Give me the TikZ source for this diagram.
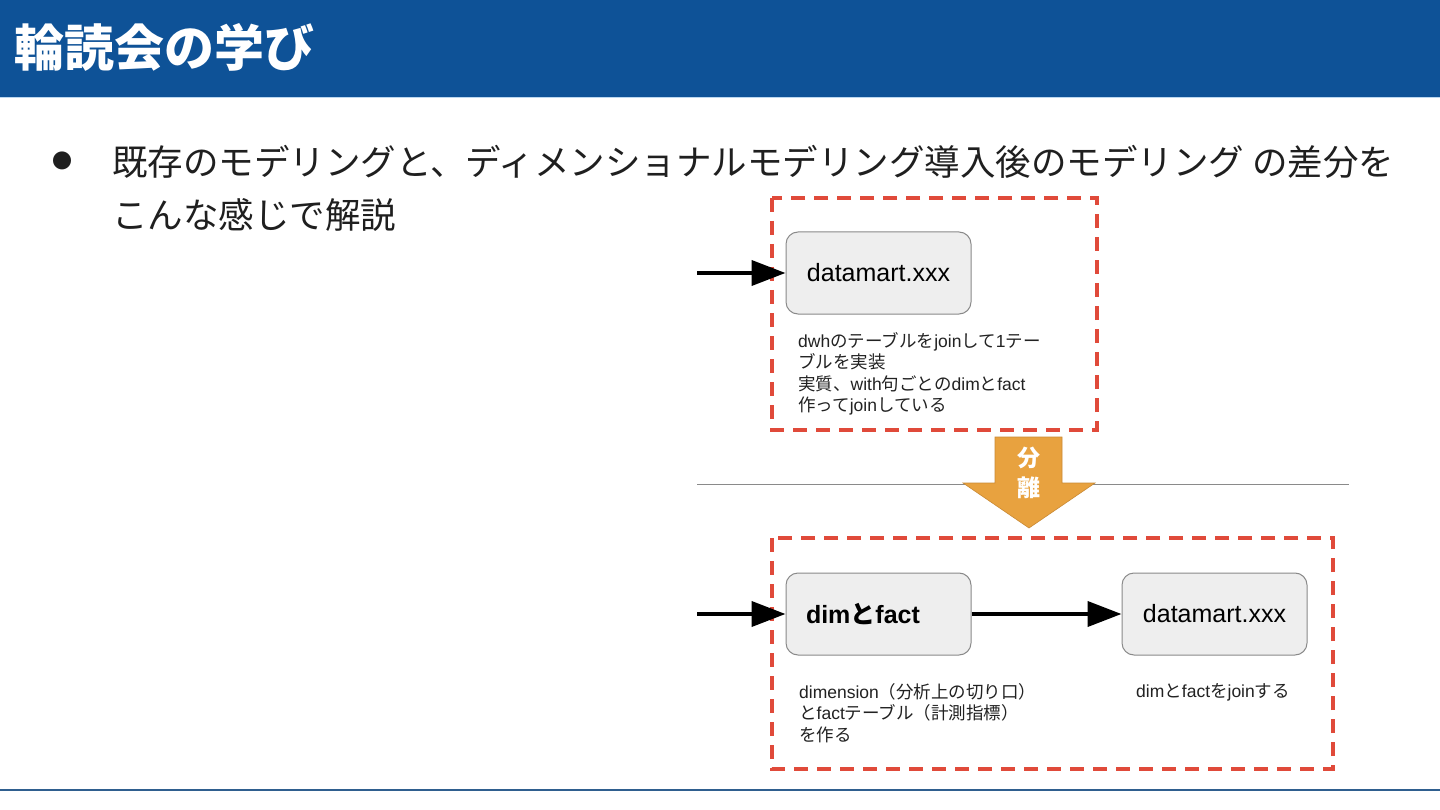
\documentclass[tikz,border=0pt]{standalone}
\usepackage{fontspec}
\setmainfont{Noto Sans CJK JP}
\newfontfamily\la{Liberation Sans}
\usetikzlibrary{arrows.meta}
\definecolor{titlebg}{HTML}{0E5297}
\definecolor{titleline}{HTML}{BBD7F0}
\definecolor{footline}{HTML}{2F5F8F}
\definecolor{reddash}{HTML}{E04A3A}
\definecolor{boxgray}{HTML}{EEEEEE}
\definecolor{boxedge}{HTML}{8A8A8A}
\definecolor{orangearrow}{HTML}{E8A23F}
\definecolor{orangeedge}{HTML}{C98A35}
\definecolor{bodytext}{HTML}{222222}
\begin{document}
\begin{tikzpicture}[x=1pt,y=-1pt,
  dashbox/.style={draw=reddash, line width=3.5pt, dash pattern=on 14pt off 9pt},
  procbox/.style={draw=boxedge, fill=boxgray, line width=1pt, rounded corners=12pt,
    minimum width=185pt, minimum height=82pt, inner sep=0pt, text=black,
    font=\la\fontsize{25}{28}\selectfont},
  bigarrow/.style={line width=4pt, -{Triangle[length=34pt,width=25pt]}},
  note/.style={anchor=north west, align=left, inner sep=0pt, text=bodytext,
    font=\fontsize{17.5}{21.5}\selectfont},
  bodyline/.style={anchor=base west, inner sep=0pt, text=black!88,
    font=\fontsize{35.5}{40}\selectfont}
]
\useasboundingbox (0,0) rectangle (1440,810);
\fill[white] (0,0) rectangle (1440,810);
% title bar
\fill[titlebg] (0,0) rectangle (1440,97);
\draw[titleline, line width=1.5pt] (0,97.5) -- (1440,97.5);
\node[anchor=base west, inner sep=0pt, text=white, font=\fontsize{50}{52}\selectfont\bfseries] (title) at (14,67) {輪読会の学び};
% bullet text
\node[inner sep=0pt, text=black!88, font=\fontsize{20}{22}\selectfont] (bullet) at (62,161) {●};
\node[bodyline] (line1) at (112,176) {既存のモデリングと、ディメンショナルモデリング導入後のモデリング の差分を};
\node[bodyline] (line2) at (112,229) {こんな感じで解説};
% footer line
\draw[footline, line width=2pt] (0,790) -- (1440,790);

% top dashed box
\draw[dashbox] (772,198) rectangle (1097,430);
\node[procbox] (dm1) at (878.5,273) {datamart.xxx};
\coordinate (in1) at (697,273);
\draw[bigarrow] (in1) -- (dm1.west);
\node[note] (note1) at (798,332) {{\la dwh}のテーブルを{\la join}して{\la 1}テー\\ブルを実装\\実質、{\la with}句ごとの{\la dim}と{\la fact}\\作って{\la join}している};

% separator and orange arrow
\coordinate (sepL) at (697,484);
\coordinate (sepR) at (1349,484);
\draw[boxedge, line width=1pt] (sepL) -- (sepR);
\fill[orangearrow, draw=orangeedge, line width=0.6pt] (995,437) -- (1062,437) -- (1062,483) -- (1095,483) -- (1029,528) -- (963,483) -- (995,483) -- cycle;
\node[text=white, inner sep=0pt, font=\fontsize{23}{24}\selectfont\bfseries] (bun) at (1029,458) {分};
\node[text=white, inner sep=0pt, font=\fontsize{23}{24}\selectfont\bfseries] (ri) at (1029,488) {離};

% bottom dashed box
\draw[dashbox] (772,538) rectangle (1333,769);
\node[procbox, text width=145pt, align=left, font=\fontsize{25}{28}\selectfont\bfseries] (df) at (878.5,614) {{\la\bfseries dim}と{\la\bfseries fact}};
\node[procbox] (dm2) at (1214.5,614) {datamart.xxx};
\coordinate (in2) at (697,614);
\draw[bigarrow] (in2) -- (df.west);
\draw[bigarrow] (df.east) -- (dm2.west);
\node[note] (note2) at (799,683) {{\la dimension}（分析上の切り口）\\と{\la fact}テーブル（計測指標）\\を作る};
\node[note] (note3) at (1136,683) {{\la dim}と{\la fact}を{\la join}する};
\end{tikzpicture}
\end{document}
